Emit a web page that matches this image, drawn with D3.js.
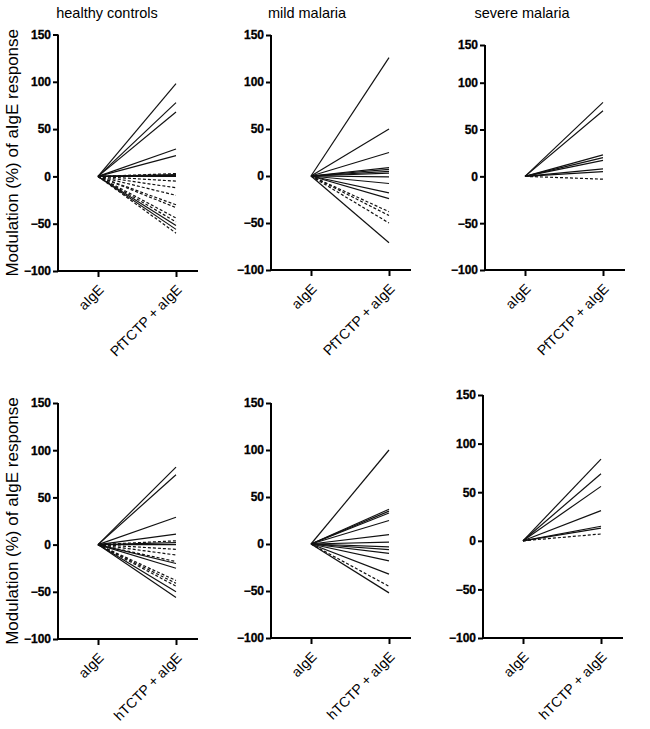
<!DOCTYPE html>
<html><head><meta charset="utf-8">
<script src="https://cdn.jsdelivr.net/npm/d3@7"></script>
<style>body{margin:0;background:#fff}svg{display:block}</style>
</head><body>
<svg id="c" width="650" height="729"></svg>
<script>
// ---- data ----
const groupTitles = ["healthy controls", "mild malaria", "severe malaria"];
const yTicks = [-100, -50, 0, 50, 100, 150];
const xCatsPf = ["aIgE", "PfTCTP + aIgE"];
const xCatsH = ["aIgE", "hTCTP + aIgE"];
const yLabel = "Modulation (%) of aIgE response";

// end values (start is always 0 at aIgE)
const hcPfSolid = [98, 78, 68, 29, 22, 2, 1, 0, -52, -56];
const hcPfDashed = [3, -5, -12, -20, -30, -33, -44, -48, -60];
const mmPfSolid = [126, 50, 25, 9, 7, 5, 3, -1, -8, -18, -24, -71];
const mmPfDashed = [-38, -42, -50];
const smPfSolid = [79, 70, 23, 20, 17, 8, 5];
const smPfDashed = [-3];
const hcHSolid = [82, 74, 29, 11, 2, 0, -20, -25, -50, -56];
const hcHDashed = [4, -5, -11, -18, -38, -41, -44];
const mmHSolid = [100, 37, 35, 33, 25, 10, 2, -3, -6, -10, -18, -32, -52];
const mmHDashed = [-45];
const smHSolid = [84, 69, 56, 31, 15, 13];
const smHDashed = [7];

// ---- layout ----
const panels = [
  {ax:58,  yDom:[-100,150], yR:[271,34.5], cats:xCatsPf, solid:hcPfSolid, dashed:hcPfDashed, ylab:true},
  {ax:271, yDom:[-100,150], yR:[270,35],   cats:xCatsPf, solid:mmPfSolid, dashed:mmPfDashed},
  {ax:485, yDom:[-100,100,150], yR:[270,82.7,45], cats:xCatsPf, solid:smPfSolid, dashed:smPfDashed},
  {ax:58,  yDom:[-100,150], yR:[639,403],  cats:xCatsH, solid:hcHSolid, dashed:hcHDashed, ylab:true},
  {ax:271, yDom:[-100,150], yR:[638,403],  cats:xCatsH, solid:mmHSolid, dashed:mmHDashed},
  {ax:483, yDom:[-100,150], yR:[638,395],  cats:xCatsH, solid:smHSolid, dashed:smHDashed}
];
const titleX = [107, 307, 522];

const svg = d3.select("#c");
const F = "Arial, 'Liberation Sans', sans-serif";

groupTitles.forEach((t,i)=>{
  svg.append("text").attr("x", titleX[i]).attr("y", 18).attr("text-anchor","middle")
    .style("font-family",F).style("font-size","14.5px").text(t);
});

panels.forEach(p=>{
  const y = d3.scaleLinear().domain(p.yDom).range(p.yR);
  const x = d3.scalePoint().domain(p.cats).range([p.ax+40, p.ax+118]);
  const g = svg.append("g");
  const y0 = y(-100);
  // y axis
  const yAx = g.append("g").attr("transform",`translate(${p.ax},0)`)
    .call(d3.axisLeft(y).tickValues(yTicks).tickSize(5).tickPadding(2).tickFormat(d3.format("d")));
  yAx.select(".domain").attr("stroke-width",2).attr("d",`M-0,${y(150)}V${y0}`);
  yAx.selectAll(".tick line").attr("stroke-width",2);
  yAx.selectAll("text").style("font-family",F).style("font-size","12px").style("font-weight","700")
    .attr("fill","#000").attr("stroke","#000").attr("stroke-width",0.3);
  // x axis
  const xAx = g.append("g").attr("transform",`translate(0,${y0})`)
    .call(d3.axisBottom(x).tickSize(6).tickFormat(""));
  xAx.select(".domain").attr("stroke-width",2).attr("d",`M${p.ax},0H${p.ax+140}`);
  xAx.selectAll(".tick line").attr("stroke-width",2);
  p.cats.forEach(c=>{
    g.append("text").attr("transform",`translate(${x(c)+4},${y0+17}) rotate(-45)`)
      .attr("text-anchor","end").attr("dominant-baseline","middle")
      .style("font-family",F).style("font-size","14px").text(c);
  });
  const line = d3.line().x(d=>x(d[0])).y(d=>y(d[1]));
  const mk = v => [[p.cats[0],0],[p.cats[1],v]];
  g.selectAll(".s").data(p.solid).join("path").attr("d",v=>line(mk(v)))
    .attr("fill","none").attr("stroke","#111").attr("stroke-width",1.2);
  g.selectAll(".dd").data(p.dashed).join("path").attr("d",v=>line(mk(v)))
    .attr("fill","none").attr("stroke","#111").attr("stroke-width",1.2).attr("stroke-dasharray","3,2");
  if(p.ylab){
    const yc = (y(150)+y0)/2;
    svg.append("text").attr("transform",`translate(14,${yc}) rotate(-90)`)
      .attr("text-anchor","middle").attr("dominant-baseline","middle")
      .style("font-family",F).style("font-size","17px").text(yLabel);
  }
});
</script>
</body></html>
